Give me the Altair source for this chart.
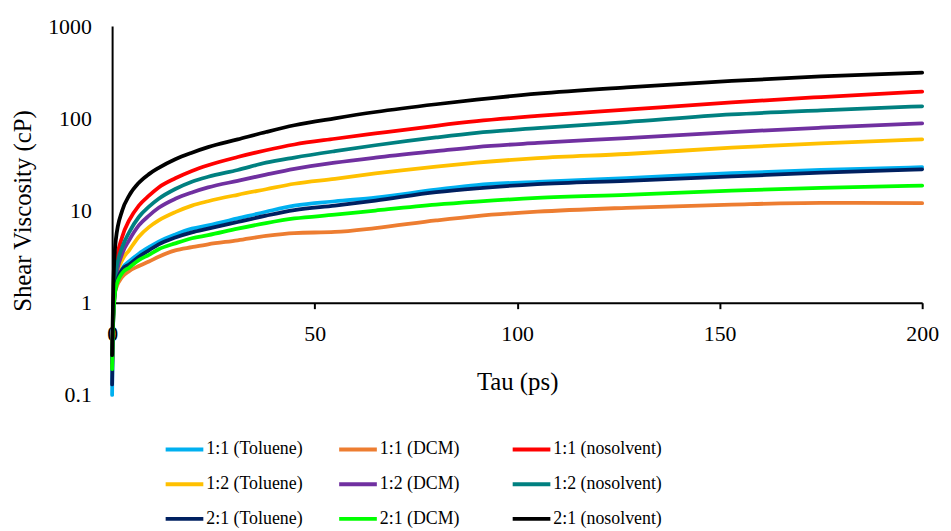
import altair as alt
import pandas as pd

TAU = [0, 0.3, 0.9, 2.5, 4.2, 6.6, 9.1, 11.5, 15.6, 19.7, 23.7, 31, 38, 45, 55, 65, 80, 90, 105, 127, 153, 175, 200]

SERIES = ["1:1 (Toluene)", "1:1 (DCM)", "1:1 (nosolvent)",
          "1:2 (Toluene)", "1:2 (DCM)", "1:2 (nosolvent)",
          "2:1 (Toluene)", "2:1 (DCM)", "2:1 (nosolvent)"]
COLORS = ["#00B0F0", "#ED7D31", "#FF0000",
          "#FFC000", "#7030A0", "#008080",
          "#002060", "#00FF00", "#000000"]

tol_11 = [0.1, 0.7, 1.5, 2.36, 2.8, 3.4, 4.0, 4.6, 5.5, 6.35, 6.9, 8.2, 9.7, 11.3, 12.6, 13.8, 16.8, 18.9, 20.5, 22.5, 25.4, 27.5, 29.5]
dcm_11 = [0.2, 0.7, 1.4, 1.9, 2.2, 2.5, 2.8, 3.15, 3.7, 4.0, 4.3, 4.75, 5.3, 5.7, 5.85, 6.45, 7.8, 8.7, 9.7, 10.7, 11.6, 12.1, 12.0]
nos_11 = [0.25, 0.9, 2.5, 5.2, 7.8, 11.3, 14.5, 17.8, 22.4, 26.9, 31, 38, 45, 52, 60, 68.5, 83, 93, 106, 124, 149, 170, 195]
tol_12 = [0.2, 0.8, 1.75, 2.9, 3.7, 5.2, 6.6, 7.8, 9.6, 11.3, 12.6, 14.8, 17, 19.5, 22, 25.2, 30, 33, 37, 41, 48, 53.5, 59]
dcm_12 = [0.22, 0.8, 1.8, 3.4, 4.75, 6.9, 8.8, 10.7, 13.4, 15.7, 17.8, 21, 24.5, 28.3, 33, 37.4, 44, 48.8, 54, 61, 71, 79, 88]
nos_12 = [0.25, 0.85, 2.1, 4.0, 5.8, 8.5, 11, 13.4, 17.1, 20.5, 23.2, 27.5, 33, 37.5, 44, 51, 62, 69.5, 78, 91, 110, 122, 135]
tol_21 = [0.13, 0.7, 1.5, 2.3, 2.6, 3.15, 3.7, 4.3, 5.1, 5.8, 6.35, 7.5, 8.8, 10.1, 11.3, 12.8, 15.8, 17.4, 19.3, 21, 23.4, 25.8, 28]
dcm_21 = [0.19, 0.7, 1.45, 2.1, 2.4, 2.9, 3.3, 3.8, 4.4, 5.0, 5.4, 6.35, 7.3, 8.2, 9.0, 10, 11.6, 12.5, 13.7, 14.8, 16.4, 17.6, 18.6]
nos_21 = [0.27, 1.5, 4.75, 10, 14.5, 20, 24.8, 29, 36, 42.4, 48.7, 59, 71, 84, 100, 117, 142, 159, 185, 217, 254, 285, 312]

VALUES = [tol_11, dcm_11, nos_11, tol_12, dcm_12, nos_12, tol_21, dcm_21, nos_21]

rows = []
for name, vals in zip(SERIES, VALUES):
    for t, v in zip(TAU, vals):
        rows.append({"series": name, "tau": t, "visc": v})
df = pd.DataFrame(rows)

FONT = "Liberation Serif"

chart = alt.Chart(df).mark_line(
    strokeWidth=3.8, interpolate="monotone", strokeCap="round", strokeJoin="round"
).encode(
    x=alt.X(
        "tau:Q",
        scale=alt.Scale(domain=[0, 200], nice=False, zero=False),
        axis=alt.Axis(
            values=[0, 50, 100, 150, 200], title="Tau (ps)", offset=-93, grid=False,
            domainColor="black", domainWidth=2, tickColor="black", tickWidth=2, tickSize=6,
            labelFont=FONT, labelFontSize=22, labelColor="black", labelPadding=15,
            titleFont=FONT, titleFontSize=25, titleFontWeight="normal", titleColor="black",
            titlePadding=26, labelFlush=False,
        ),
    ),
    y=alt.Y(
        "visc:Q",
        scale=alt.Scale(type="log", domain=[0.1, 1000], nice=False),
        axis=alt.Axis(
            values=[0.1, 1, 10, 100, 1000], format="~g", title="Shear Viscosity (cP)", grid=False,
            domainColor="black", domainWidth=2, ticks=False, labelPadding=21,
            labelFont=FONT, labelFontSize=22, labelColor="black",
            titleFont=FONT, titleFontSize=25, titleFontWeight="normal", titleColor="black",
            titlePadding=12,
        ),
    ),
    color=alt.Color(
        "series:N",
        scale=alt.Scale(domain=SERIES, range=COLORS),
        legend=alt.Legend(
            title=None, orient="none", legendX=52, legendY=406, columns=3, direction="horizontal",
            symbolType="stroke", symbolStrokeWidth=4, symbolSize=1444,
            labelFont=FONT, labelFontSize=18, labelColor="black", labelOffset=1,
            gridAlign="all", columnPadding=16, rowPadding=5, padding=0,
        ),
    ),
).properties(
    width=817, height=372,
    autosize=alt.AutoSizeParams(type="none"),
    padding={"left": 105, "top": 16, "right": 21, "bottom": 135},
).configure_view(stroke=None)

chart.save("out.html", embed_options={"renderer": "svg", "actions": False})
